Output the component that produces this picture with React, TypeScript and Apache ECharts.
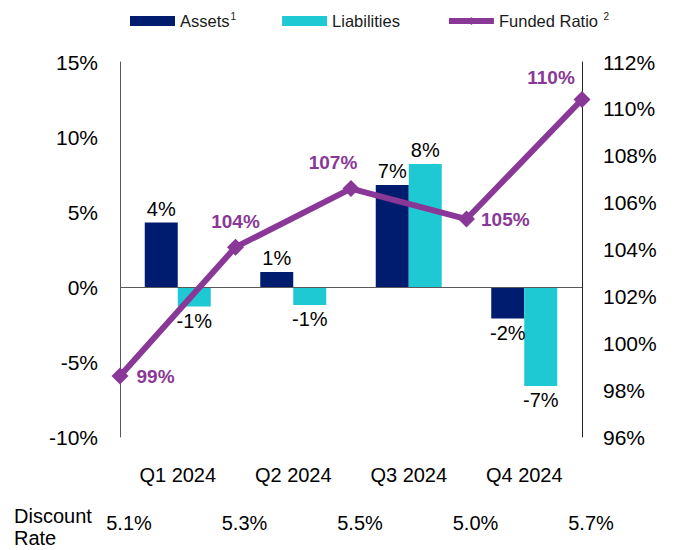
import React, { useEffect, useRef } from "react";
import * as echarts from "echarts";

const quarters = ["Q1 2024", "Q2 2024", "Q3 2024", "Q4 2024"];
const assets = [4.3, 1.0, 6.8, -2.1];
const liabilities = [-1.3, -1.2, 8.2, -6.6];
const fundedRatio = [98.6, 104.1, 106.6, 105.3, 110.4];
const discountRates = ["5.1%", "5.3%", "5.5%", "5.0%", "5.7%"];
const leftTicks = { min: -10, max: 15, interval: 5 };
const rightTicks = { min: 96, max: 112, interval: 2 };

const FONT = "Liberation Sans, Arial, sans-serif";
const NAVY = "#001C6E";
const CYAN = "#1FC9D3";
const PURPLE = "#8A3897";
const AXIS = "#595959";

export default function App() {
  const ref = useRef<HTMLDivElement>(null);
  useEffect(() => {
    if (!ref.current) return;
    const chart = echarts.init(ref.current, undefined, { renderer: "svg" });

    const barItems = (arr: number[]) =>
      arr.map((v) => ({
        value: v,
        label: { position: v < 0 ? "bottom" : "top" },
      }));

    const linePositions: any[] = [
      { position: "right", offset: [0, 0] },
      { position: "top", offset: [0, 0] },
      { position: "top", offset: [-18, 0] },
      { position: "right", offset: [-2, 0] },
      { position: "top", offset: [-31, 4] },
    ];

    const option: any = {
      animation: false,
      textStyle: { fontFamily: FONT },
      legend: {
        top: 6,
        left: 125,
        itemGap: 46,
        itemWidth: 45,
        itemHeight: 10,
        textStyle: {
          fontFamily: FONT,
          fontSize: 16.5,
          color: "#1a1a1a",
          rich: {
            sup: { fontSize: 10, verticalAlign: "top", padding: [0, 0, 10, 1], color: "#1a1a1a", fontFamily: FONT },
          },
        },
        formatter: (name: string) =>
          name === "Assets" ? "Assets{sup|1}" : name === "Funded Ratio" ? "Funded Ratio {sup|2}" : name,
        data: [
          { name: "Assets", icon: "rect" },
          { name: "Liabilities", icon: "rect" },
          { name: "Funded Ratio", lineStyle: { width: 6 } },
        ],
      },
      grid: { left: 120, right: 91, top: 62, bottom: 113, containLabel: false },
      xAxis: [
        {
          type: "category",
          data: quarters,
          position: "bottom",
          axisLine: { show: false },
          axisTick: { show: false },
          axisLabel: { margin: 28, fontSize: 20, color: "#000", fontFamily: FONT },
        },
        {
          type: "category",
          data: discountRates,
          boundaryGap: false,
          position: "bottom",
          axisLine: { show: false },
          axisTick: { show: false },
          axisLabel: {
            margin: 76,
            fontSize: 20,
            color: "#000",
            fontFamily: FONT,
            padding: [0, 0, 0, 18],
            interval: 0,
          },
        },
      ],
      yAxis: [
        {
          type: "value",
          ...leftTicks,
          axisLine: { show: true, lineStyle: { color: AXIS, width: 1 } },
          axisTick: { show: false },
          splitLine: { show: false },
          axisLabel: { formatter: "{value}%", fontSize: 21, color: "#000", margin: 22, fontFamily: FONT },
        },
        {
          type: "value",
          ...rightTicks,
          position: "right",
          axisLine: { show: true, lineStyle: { color: "#222", width: 1 } },
          axisTick: { show: false },
          splitLine: { show: false },
          axisLabel: { formatter: "{value}%", fontSize: 21, color: "#000", margin: 21, fontFamily: FONT },
        },
      ],
      series: [
        {
          name: "Assets",
          type: "bar",
          xAxisIndex: 0,
          yAxisIndex: 0,
          data: barItems(assets),
          barWidth: 33,
          barGap: "0%",
          itemStyle: { color: NAVY },
          label: {
            show: true,
            fontSize: 20,
            color: "#000",
            fontFamily: FONT,
            distance: 4,
            formatter: (p: any) => Math.round(p.value) + "%",
          },
          markLine: {
            silent: true,
            symbol: "none",
            label: { show: false },
            lineStyle: { color: AXIS, width: 1, type: "solid" },
            data: [{ yAxis: 0 }],
          },
          z: 2,
        },
        {
          name: "Liabilities",
          type: "bar",
          xAxisIndex: 0,
          yAxisIndex: 0,
          data: barItems(liabilities),
          barWidth: 33,
          barGap: "0%",
          itemStyle: { color: CYAN },
          label: {
            show: true,
            fontSize: 20,
            color: "#000",
            fontFamily: FONT,
            distance: 4,
            formatter: (p: any) => Math.round(p.value) + "%",
          },
          z: 2,
        },
        {
          name: "Funded Ratio",
          type: "line",
          xAxisIndex: 1,
          yAxisIndex: 1,
          data: fundedRatio.map((v, i) => ({ value: v, label: linePositions[i] })),
          symbol: "diamond",
          symbolSize: 17,
          lineStyle: { color: PURPLE, width: 6 },
          itemStyle: { color: PURPLE },
          label: {
            show: true,
            fontSize: 19,
            fontWeight: "bold",
            color: PURPLE,
            fontFamily: FONT,
            distance: 8,
            formatter: (p: any) => Math.round(p.value) + "%",
          },
          z: 5,
        },
      ],
      graphic: [
        {
          type: "text",
          left: 14,
          top: 505,
          style: {
            text: "Discount\nRate",
            fontSize: 20,
            lineHeight: 22,
            fill: "#000",
            fontFamily: FONT,
          },
        },
      ],
    };

    chart.setOption(option);
    return () => chart.dispose();
  }, []);

  return (
    <div
      ref={ref}
      style={{ position: "fixed", left: 0, top: 0, width: 673, height: 550, background: "#fff" }}
    />
  );
}
